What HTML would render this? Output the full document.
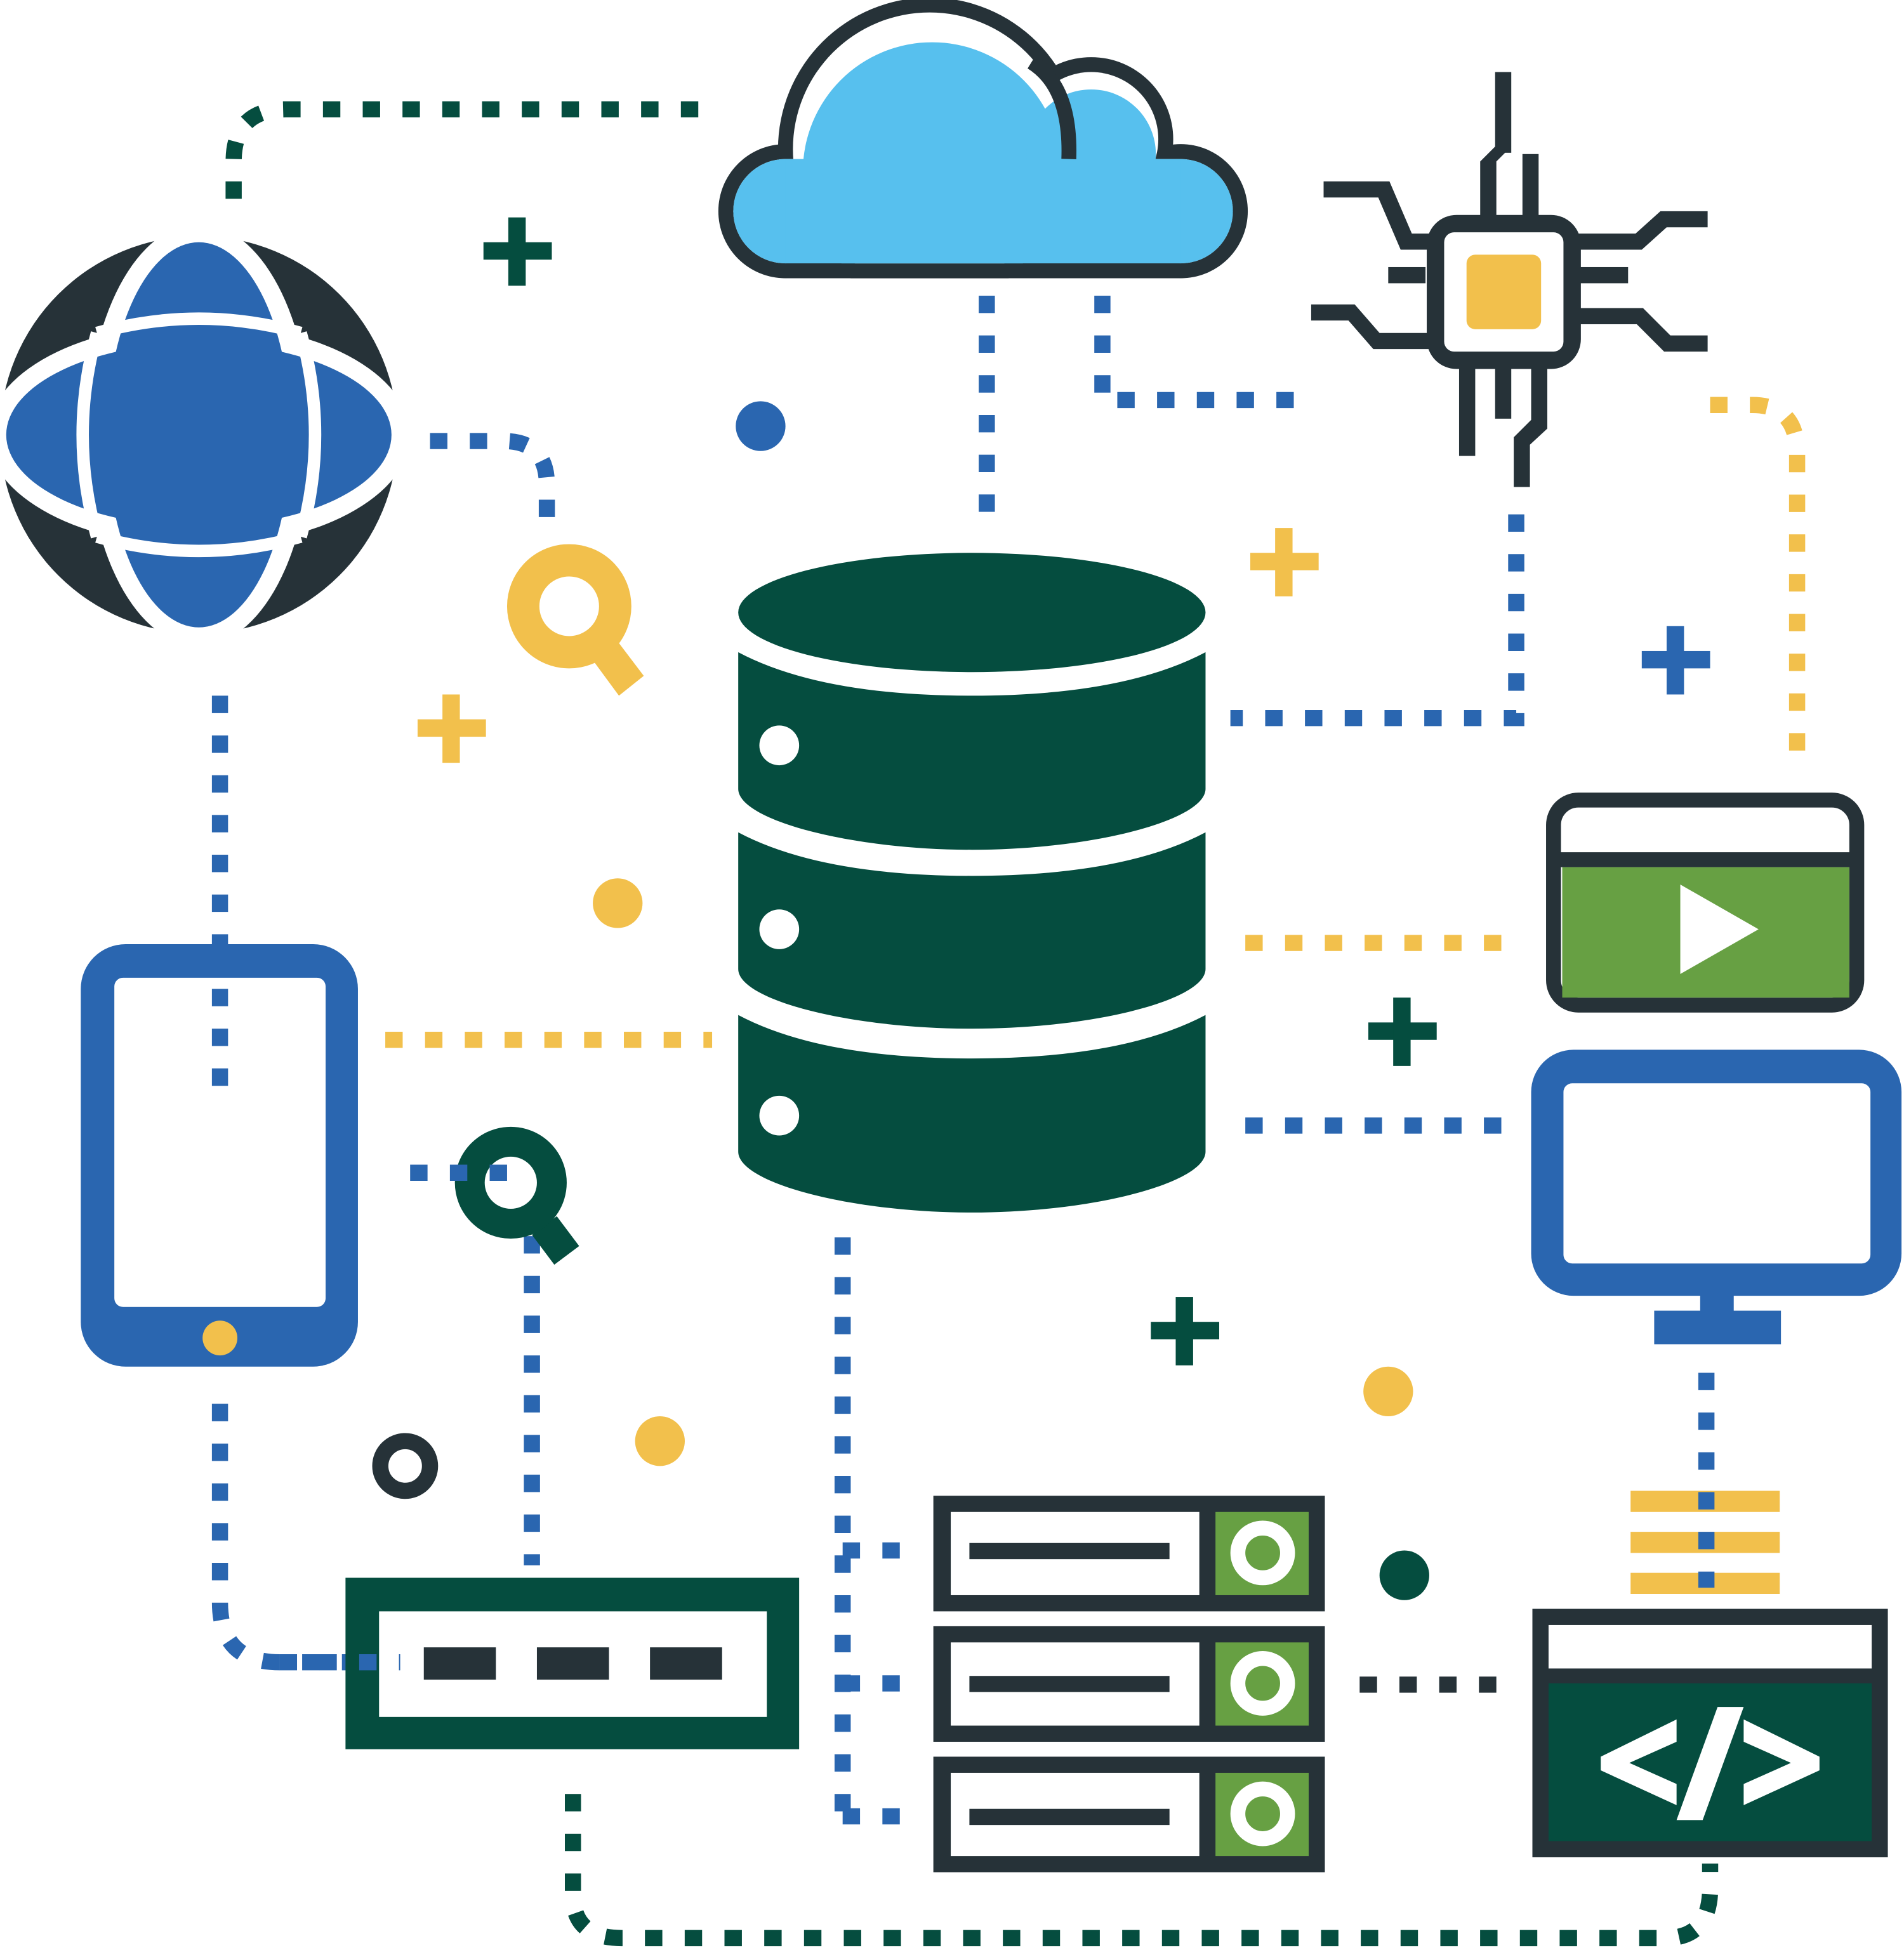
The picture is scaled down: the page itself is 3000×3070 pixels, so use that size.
<!DOCTYPE html>
<html><head><meta charset="utf-8"><style>html,body{margin:0;padding:0;background:#fff}svg{display:block}</style></head>
<body>
<svg width="3000" height="3070" viewBox="0 0 1532 1568" preserveAspectRatio="none" xmlns="http://www.w3.org/2000/svg">
<defs>
<g id="plus"><rect x="-27" y="-7" width="55" height="14"/><rect x="-7" y="-27" width="14" height="55"/></g>
<clipPath id="cdark"><rect x="0" y="0" width="1532" height="224"/></clipPath>
<clipPath id="cin"><rect x="0" y="0" width="1532" height="212"/></clipPath>
</defs>
<!-- dashed connectors -->
<g fill="none" stroke-width="13" stroke-dasharray="14 18">
<path d="M188,160 L188,130 Q188,88 230,88 L565,88" stroke="#054D3F"/>
<path d="M346,355 L405,355 Q440,355 440,390 L440,418" stroke="#2A66B0"/>
<path d="M794,238 L794,418" stroke="#2A66B0"/>
<path d="M887,238 L887,322 L1047,322" stroke="#2A66B0"/>
<path d="M1220,414 L1220,578 L990,578" stroke="#2A66B0"/>
<path d="M1376,326 L1410,326 Q1446,326 1446,365 L1446,605" stroke="#F2C04C"/>
<path d="M1002,759 L1208,759" stroke="#F2C04C"/>
<path d="M1002,906 L1208,906" stroke="#2A66B0"/>
<path d="M177,560 L177,890" stroke="#2A66B0"/>
<path d="M310,837 L573,837" stroke="#F2C04C"/>
<path d="M428,995 L428,1260" stroke="#2A66B0"/>
<path d="M177,1130 L177,1290 Q177,1338 225,1338 L322,1338" stroke="#2A66B0"/>
<path d="M678,996 L678,1470" stroke="#2A66B0"/>
<path d="M678,1248 L738,1248 M678,1355 L738,1355 M678,1462 L738,1462" stroke="#2A66B0"/>
<path d="M1094,1356 L1205,1356" stroke="#263238"/>
<path d="M461,1444 L461,1525 Q461,1560 500,1560 L1340,1560 Q1376,1560 1376,1520 L1376,1500" stroke="#054D3F"/>
</g>
<!-- cloud -->
<g fill="#263238" clip-path="url(#cdark)">
<circle cx="632" cy="170" r="54"/><circle cx="748" cy="120" r="122"/><circle cx="878" cy="112" r="66"/><circle cx="950" cy="170" r="54"/><rect x="632" y="120" width="318" height="104"/>
</g>
<g fill="#fff" clip-path="url(#cin)">
<circle cx="632" cy="170" r="42"/><circle cx="748" cy="120" r="110"/><circle cx="878" cy="112" r="54"/><circle cx="950" cy="170" r="42"/><rect x="632" y="128" width="318" height="84"/>
</g>
<g fill="#57C0EE" clip-path="url(#cin)">
<circle cx="632" cy="170" r="42"/><circle cx="750" cy="138" r="104"/><circle cx="878" cy="124" r="52"/><circle cx="950" cy="170" r="42"/><rect x="632" y="128" width="318" height="84"/>
</g>
<path d="M860,128 Q862,70 830,50" fill="none" stroke="#263238" stroke-width="12"/>
<!-- globe -->
<circle cx="160" cy="350" r="160" fill="#263238"/>
<ellipse cx="160" cy="350" rx="170" ry="90" fill="#fff"/>
<ellipse cx="160" cy="350" rx="90" ry="170" fill="#fff"/>
<ellipse cx="160" cy="350" rx="155" ry="74" fill="#2A66B0"/>
<ellipse cx="160" cy="350" rx="74" ry="155" fill="#2A66B0"/>
<path d="M78,268 Q160,245 242,268 M78,432 Q160,455 242,432 M78,268 Q55,350 78,432 M242,268 Q265,350 242,432" fill="none" stroke="#fff" stroke-width="10"/>
<!-- chip -->
<g fill="#263238">
<rect x="1203" y="58" width="13" height="65"/><polygon points="1191,130 1203,118 1216,118 1204,130 1204,175 1191,175"/>
<rect x="1225" y="124" width="13" height="52"/>
<polygon points="1065,146 1118,146 1136,188 1160,188 1160,201 1127,201 1109,159 1065,159"/>
<rect x="1117" y="215" width="30" height="13"/>
<polygon points="1055,245 1090,245 1110,268 1160,268 1160,281 1105,281 1085,258 1055,258"/>
<polygon points="1260,188 1316,188 1336,170 1374,170 1374,183 1341,183 1321,201 1260,201"/>
<rect x="1260" y="215" width="50" height="13"/>
<polygon points="1260,248 1322,248 1344,270 1374,270 1374,283 1339,283 1317,261 1260,261"/>
<rect x="1174" y="290" width="13" height="77"/><rect x="1203" y="290" width="13" height="47"/>
<polygon points="1232,290 1245,290 1245,345 1231,358 1231,392 1218,392 1218,352 1232,338"/>
<rect x="1148" y="173" width="124" height="124" rx="24"/>
</g>
<rect x="1162" y="187" width="96" height="96" rx="8" fill="#fff"/>
<rect x="1180" y="205" width="60" height="60" rx="7" fill="#F2C04C"/>
<!-- database -->
<g fill="#054D3F">
<ellipse cx="782" cy="493" rx="188" ry="48"/>
<path d="M594,525 Q660,560 782,560 Q904,560 970,525 L970,635 C970,660 880,684 782,684 C684,684 594,660 594,635 Z"/>
<path d="M594,670 Q660,705 782,705 Q904,705 970,670 L970,780 C970,805 880,828 782,828 C684,828 594,805 594,780 Z"/>
<path d="M594,817 Q660,852 782,852 Q904,852 970,817 L970,927 C970,952 880,976 782,976 C684,976 594,952 594,927 Z"/>
</g>
<g fill="#fff"><circle cx="627" cy="600" r="16"/><circle cx="627" cy="748" r="16"/><circle cx="627" cy="898" r="16"/></g>
<!-- video window -->
<rect x="1250" y="644" width="244" height="165" rx="20" fill="#fff" stroke="#263238" stroke-width="12"/>
<rect x="1257" y="698" width="231" height="105" fill="#67A043"/>
<rect x="1250" y="686" width="244" height="12" fill="#263238"/>
<polygon points="1352,712 1415,748 1352,784" fill="#fff"/>
<!-- monitor -->
<rect x="1232" y="845" width="298" height="198" rx="34" fill="#2A66B0"/>
<rect x="1258" y="872" width="247" height="145" rx="7" fill="#fff"/>
<rect x="1368" y="1040" width="27" height="18" fill="#2A66B0"/>
<rect x="1331" y="1055" width="102" height="27" fill="#2A66B0"/>
<!-- tablet -->
<rect x="65" y="760" width="223" height="340" rx="36" fill="#2A66B0"/>
<rect x="92" y="787" width="170" height="265" rx="7" fill="#fff"/>
<circle cx="177" cy="1077" r="14" fill="#F2C04C"/>
<path d="M177,790 L177,890" stroke="#2A66B0" stroke-width="13" stroke-dasharray="14 18" stroke-dashoffset="-6" fill="none"/>
<!-- yellow bars -->
<g fill="#F2C04C"><rect x="1312" y="1200" width="120" height="17"/><rect x="1312" y="1233" width="120" height="17"/><rect x="1312" y="1266" width="120" height="17"/></g>
<path d="M1373,1105 L1373,1278" stroke="#2A66B0" stroke-width="13" stroke-dasharray="14 18" fill="none"/>
<!-- code window -->
<rect x="1233" y="1295" width="286" height="200" fill="#263238"/>
<rect x="1246" y="1308" width="260" height="35" fill="#fff"/>
<rect x="1246" y="1355" width="260" height="127" fill="#054D3F"/>
<g fill="#fff">
<polygon points="1349,1384 1349,1402 1311,1419 1349,1436 1349,1453 1288,1425 1288,1414"/>
<polygon points="1403,1384 1403,1402 1441,1419 1403,1436 1403,1453 1464,1425 1464,1414"/>
<polygon points="1382,1374 1403,1374 1370,1465 1349,1465"/>
</g>
<!-- switch -->
<rect x="278" y="1270" width="365" height="138" fill="#054D3F"/>
<rect x="305" y="1297" width="312" height="85" fill="#fff"/>
<g fill="#263238"><rect x="341" y="1326" width="58" height="26"/><rect x="432" y="1326" width="58" height="26"/><rect x="523" y="1326" width="58" height="26"/></g>
<path d="M225,1338 L322,1338" stroke="#2A66B0" stroke-width="13" stroke-dasharray="14 18" fill="none"/>
<!-- servers -->
<g>
<rect x="751" y="1204" width="315" height="93" fill="#263238"/><rect x="765" y="1217" width="200" height="67" fill="#fff"/><rect x="978" y="1217" width="75" height="67" fill="#67A043"/><rect x="780" y="1242" width="161" height="13" fill="#263238"/><circle cx="1016" cy="1250" r="20" fill="none" stroke="#fff" stroke-width="12"/>
<rect x="751" y="1309" width="315" height="93" fill="#263238"/><rect x="765" y="1322" width="200" height="67" fill="#fff"/><rect x="978" y="1322" width="75" height="67" fill="#67A043"/><rect x="780" y="1349" width="161" height="13" fill="#263238"/><circle cx="1016" cy="1355" r="20" fill="none" stroke="#fff" stroke-width="12"/>
<rect x="751" y="1414" width="315" height="93" fill="#263238"/><rect x="765" y="1427" width="200" height="67" fill="#fff"/><rect x="978" y="1427" width="75" height="67" fill="#67A043"/><rect x="780" y="1456" width="161" height="13" fill="#263238"/><circle cx="1016" cy="1460" r="20" fill="none" stroke="#fff" stroke-width="12"/>
</g>
<!-- magnifiers -->
<g>
<polygon points="476,530 496,515 518,544 498,560" fill="#F2C04C"/>
<circle cx="458" cy="488" r="37" fill="none" stroke="#F2C04C" stroke-width="26"/>
<polygon points="428,994 448,979 466,1003 446,1018" fill="#054D3F"/>
<circle cx="411" cy="952" r="33" fill="none" stroke="#054D3F" stroke-width="24"/>
<path d="M330,944 L408,944" stroke="#2A66B0" stroke-width="13" stroke-dasharray="14 18" fill="none"/>
</g>
<!-- pluses -->
<g fill="#054D3F"><use href="#plus" x="416" y="202"/><use href="#plus" x="1128" y="830"/><use href="#plus" x="953" y="1071"/></g>
<g fill="#F2C04C"><use href="#plus" x="363" y="586"/><use href="#plus" x="1033" y="452"/></g>
<g fill="#2A66B0"><use href="#plus" x="1348" y="531"/></g>
<!-- dots -->
<circle cx="612" cy="343" r="20" fill="#2A66B0"/>
<circle cx="497" cy="727" r="20" fill="#F2C04C"/>
<circle cx="531" cy="1160" r="20" fill="#F2C04C"/>
<circle cx="1117" cy="1120" r="20" fill="#F2C04C"/>
<circle cx="1130" cy="1268" r="20" fill="#054D3F"/>
<circle cx="326" cy="1180" r="20" fill="none" stroke="#263238" stroke-width="13"/>
</svg>
</body></html>
